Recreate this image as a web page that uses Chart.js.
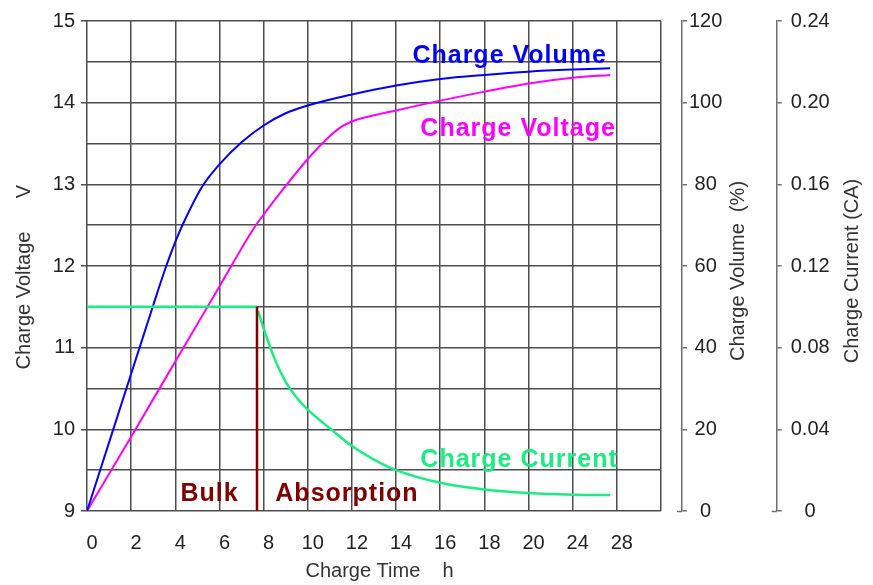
<!DOCTYPE html>
<html>
<head>
<meta charset="utf-8">
<title>Charge characteristics</title>
<script src="https://cdn.jsdelivr.net/npm/chart.js@4.4.1/dist/chart.umd.min.js"></script>
<style>
  html, body { margin: 0; padding: 0; background: #fff; }
  #wrap { width: 873px; height: 585px; }
</style>
</head>
<body>
<div id="wrap"><canvas id="chartCanvas"></canvas></div>
<script>
// x values are grid positions (one grid column = 2 units), the labels are the printed hours
const timeLabels = ["0", "2", "4", "6", "8", "10", "12", "14", "16", "18", "20", "24", "28", ""];

const volumeTime = [0, 1, 2, 3, 3.5, 4, 4.4, 5.2, 6, 7, 8, 9, 10, 12, 14, 16, 18, 20, 22, 23.7];
const volumePct = [0, 16.8, 33.6, 50.4, 58.6, 65.9, 70.9, 79.3, 84.9, 90.3, 94.4, 97.4, 99.3, 102, 104.2, 105.8, 106.8, 107.6, 108.1, 108.4];

const voltageTime = [0, 2, 4, 6, 7.6, 8, 9, 10, 10.8, 11.5, 12, 13, 14, 16, 18, 20, 22, 23.7];
const voltageV = [9, 9.91, 10.83, 11.75, 12.48, 12.63, 12.98, 13.31, 13.54, 13.7, 13.77, 13.845, 13.905, 14.025, 14.135, 14.235, 14.305, 14.34];

const bulkTime = [0, 7.7];
const bulkCurrent = [0.1, 0.1];
const absorbTime = [7.75, 8, 8.5, 9, 9.5, 10, 11, 12, 13, 14, 16, 18, 20, 22, 23.7];
const absorbCurrent = [0.098, 0.0895, 0.0745, 0.0632, 0.0555, 0.0497, 0.0405, 0.0318, 0.0252, 0.02, 0.0138, 0.0105, 0.0088, 0.008, 0.0078];

const switchTime = [7.7, 7.7];
const switchVolts = [11.5, 9];

const gridColor = "#4d4d4d";
const axisGrey = "#6e6e6e";
const tickFont = { size: 20 };

Chart.defaults.font.family = "'Liberation Sans', Arial, sans-serif";
Chart.defaults.color = "#222";

function pts(xs, ys) {
  return xs.map((x, i) => ({ x: x, y: ys[i] }));
}

// bold coloured labels inside the plot
const curveLabels = {
  id: "curveLabels",
  afterDatasetsDraw(chart) {
    const ctx = chart.ctx;
    const xs = chart.scales.x;
    const ys = chart.scales.y;
    const items = [
      ["Charge Volume", "#0000ff", 14.74, 14.48],
      ["Charge Voltage", "#ff00ff", 15.1, 13.59],
      ["Charge Current", "#1aee80", 15.1, 9.537],
      ["Bulk", "#800000", 4.23, 9.12],
      ["Absorption", "#800000", 8.53, 9.12],
    ];
    ctx.save();
    ctx.font = "bold 25px 'Liberation Sans', Arial, sans-serif";
    ctx.textAlign = "left";
    ctx.textBaseline = "alphabetic";
    if ("letterSpacing" in ctx) ctx.letterSpacing = "1px";
    items.forEach((it) => {
      ctx.fillStyle = it[1];
      ctx.fillText(it[0], xs.getPixelForValue(it[2]), ys.getPixelForValue(it[3]));
    });
    ctx.restore();
  },
};

// right-hand titles read bottom to top, which chart.js does not do for right axes
const rightTitles = {
  id: "rightTitles",
  afterDraw(chart) {
    const ctx = chart.ctx;
    const mid = (chart.chartArea.top + chart.chartArea.bottom) / 2 + 5;
    const items = [
      ["y1", "Charge Volume  (%)", 38.5],
      ["y2", "Charge Current (CA)", 21],
    ];
    ctx.save();
    ctx.font = "20px 'Liberation Sans', Arial, sans-serif";
    ctx.fillStyle = "#333";
    ctx.textAlign = "center";
    ctx.textBaseline = "middle";
    items.forEach((it) => {
      const s = chart.scales[it[0]];
      ctx.save();
      ctx.translate(s.right - it[2], mid);
      ctx.rotate(-Math.PI / 2);
      ctx.fillText(it[1], 0, 0);
      ctx.restore();
      // little foot on the inner side of the axis at zero
      const y0 = Math.round(s.getPixelForValue(0)) + 0.5;
      ctx.strokeStyle = axisGrey;
      ctx.lineWidth = 1.5;
      ctx.beginPath();
      ctx.moveTo(s.left - 5, y0);
      ctx.lineTo(s.left, y0);
      ctx.stroke();
    });
    ctx.restore();
  },
};

let ctx = document.getElementById("chartCanvas").getContext("2d");

const chart = new Chart(ctx, {
  type: "line",
  data: {
    datasets: [
      {
        data: pts(switchTime, switchVolts),
        yAxisID: "y",
        borderColor: "#800000",
        borderWidth: 2.5,
        order: 0,
      },
      {
        data: pts(volumeTime, volumePct),
        yAxisID: "y1",
        borderColor: "#0000ff",
        borderWidth: 2,
        cubicInterpolationMode: "monotone",
        order: 2,
      },
      {
        data: pts(voltageTime, voltageV),
        yAxisID: "y",
        borderColor: "#ff00ff",
        borderWidth: 2,
        cubicInterpolationMode: "monotone",
        order: 2,
      },
      {
        data: pts(bulkTime, bulkCurrent),
        yAxisID: "y2",
        borderColor: "#1aee80",
        borderWidth: 2.5,
        order: 1,
      },
      {
        data: pts(absorbTime, absorbCurrent),
        yAxisID: "y2",
        borderColor: "#1aee80",
        borderWidth: 2.5,
        cubicInterpolationMode: "monotone",
        order: 1,
      },
    ],
  },
  options: {
    responsive: true,
    maintainAspectRatio: false,
    animation: false,
    layout: { padding: { top: 19, left: 0, right: 0, bottom: 0 } },
    elements: { point: { radius: 0 }, line: { fill: false } },
    plugins: {
      legend: { display: false },
      tooltip: { enabled: false },
    },
    scales: {
      x: {
        type: "linear",
        min: 0,
        max: 26,
        grid: { color: gridColor, lineWidth: 1.5, drawTicks: false },
        border: { display: false },
        ticks: {
          stepSize: 2,
          padding: 20,
          labelOffset: 5,
          autoSkip: false,
          maxRotation: 0,
          font: tickFont,
          callback: (v) => timeLabels[Math.round(v / 2)],
        },
        title: {
          display: true,
          text: "  Charge Time    h",
          color: "#333",
          font: { size: 20 },
          padding: { top: 0, bottom: 2 },
        },
        afterFit: (s) => {
          s.height = 74;
        },
      },
      y: {
        type: "linear",
        position: "left",
        min: 9,
        max: 15,
        grid: {
          color: gridColor,
          lineWidth: 1.5,
          tickLength: 6,
          tickColor: (c) => (c.tick && c.tick.value % 1 === 0 ? gridColor : "rgba(0,0,0,0)"),
        },
        border: { display: false },
        ticks: {
          stepSize: 0.5,
          padding: 6,
          autoSkip: false,
          font: tickFont,
          callback: (v) => (v % 1 === 0 ? v : ""),
        },
        title: {
          display: true,
          text: "Charge Voltage      V    ",
          color: "#333",
          font: { size: 20 },
          padding: { top: 12, bottom: 0 },
        },
        afterFit: (s) => {
          s.width = 87;
        },
      },
      gap: {
        type: "linear",
        position: "right",
        min: 0,
        max: 1,
        grid: { display: false },
        border: { display: false },
        ticks: { display: false },
        afterFit: (s) => {
          s.width = 21;
        },
      },
      y1: {
        type: "linear",
        position: "right",
        min: 0,
        max: 120,
        grid: { drawOnChartArea: false, drawTicks: true, tickLength: 5, color: axisGrey, lineWidth: 1.5 },
        border: { display: true, color: axisGrey, width: 1.5 },
        ticks: { stepSize: 20, padding: 2, crossAlign: "center", font: tickFont },
        afterFit: (s) => {
          s.width = 94.7;
        },
      },
      y2: {
        type: "linear",
        position: "right",
        min: 0,
        max: 0.24,
        grid: { drawOnChartArea: false, drawTicks: true, tickLength: 5, color: axisGrey, lineWidth: 1.5 },
        border: { display: true, color: axisGrey, width: 1.5 },
        ticks: {
          stepSize: 0.04,
          padding: 9,
          crossAlign: "center",
          font: tickFont,
          callback: (v) => (v === 0 ? "0" : Number(v).toFixed(2)),
        },
        afterFit: (s) => {
          s.width = 96.3;
        },
      },
    },
  },
  plugins: [curveLabels, rightTitles],
});
</script>
</body>
</html>
